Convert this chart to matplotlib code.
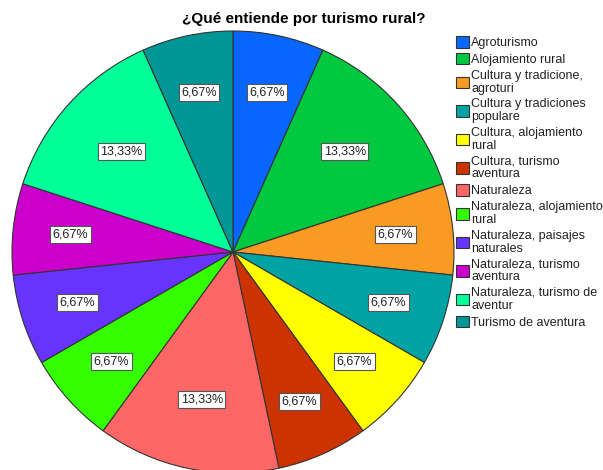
import matplotlib.pyplot as plt
from matplotlib.patches import Patch

plt.rcParams['font.family'] = ['Liberation Sans', 'DejaVu Sans']

categorias = ["Agroturismo", "Alojamiento rural", "Cultura y tradicione,\nagroturi",
              "Cultura y tradiciones\npopulare", "Cultura, alojamiento\nrural",
              "Cultura, turismo\naventura", "Naturaleza", "Naturaleza, alojamiento\nrural",
              "Naturaleza, paisajes\nnaturales", "Naturaleza, turismo\naventura",
              "Naturaleza, turismo de\naventur", "Turismo de aventura"]
frecuencias = [1, 2, 1, 1, 1, 1, 2, 1, 1, 1, 2, 1]
colores = ["#0866FF", "#00C83F", "#F99B22", "#00A3A3", "#FFFF00", "#CC3300",
           "#FF6666", "#33FF00", "#6633FF", "#CC00CC", "#00FF99", "#009696"]

fig = plt.figure(figsize=(6.03, 4.70), dpi=100)
cx, cy, r = 233, 252, 221
W, H = 603, 470
ax = fig.add_axes([(cx - r) / W, (H - cy - r) / H, 2 * r / W, 2 * r / H])


def fmt(p):
    return f"{p:.2f}%".replace(".", ",")


wedges, texts, autotexts = ax.pie(frecuencias, colors=colores, startangle=90,
                                  counterclock=False, autopct=fmt, pctdistance=0.74,
                                  wedgeprops=dict(edgecolor="#333333", linewidth=0.8))
for f, t in zip(frecuencias, autotexts):
    if f == max(frecuencias):
        x, y = t.get_position()
        t.set_position((x * 0.92, y * 0.92))
    t.set_fontsize(9)
    t.set_color("#222222")
    t.set_bbox(dict(boxstyle="square,pad=0.2", facecolor="white", edgecolor="#555555", linewidth=0.8))
ax.set_xlim(-1, 1)
ax.set_ylim(-1, 1)
ax.axis("off")

fig.text(0.504, 1 - 19 / H, "¿Qué entiende por turismo rural?", ha="center", va="center",
         fontsize=11, fontweight="bold")

handles = [Patch(facecolor=c, edgecolor="#333333", linewidth=0.8) for c in colores]
leg = fig.legend(handles, categorias, loc="upper left", bbox_to_anchor=(456 / W, 1 - 36 / H),
                 frameon=False, fontsize=9, handlelength=1.05, handleheight=1.05,
                 handletextpad=0.15, labelspacing=0.3, borderpad=0, borderaxespad=0)
for t in leg.get_texts():
    t.set_linespacing(1.1)
    t.set_color("#222222")

fig.savefig("out.png", dpi=100)
